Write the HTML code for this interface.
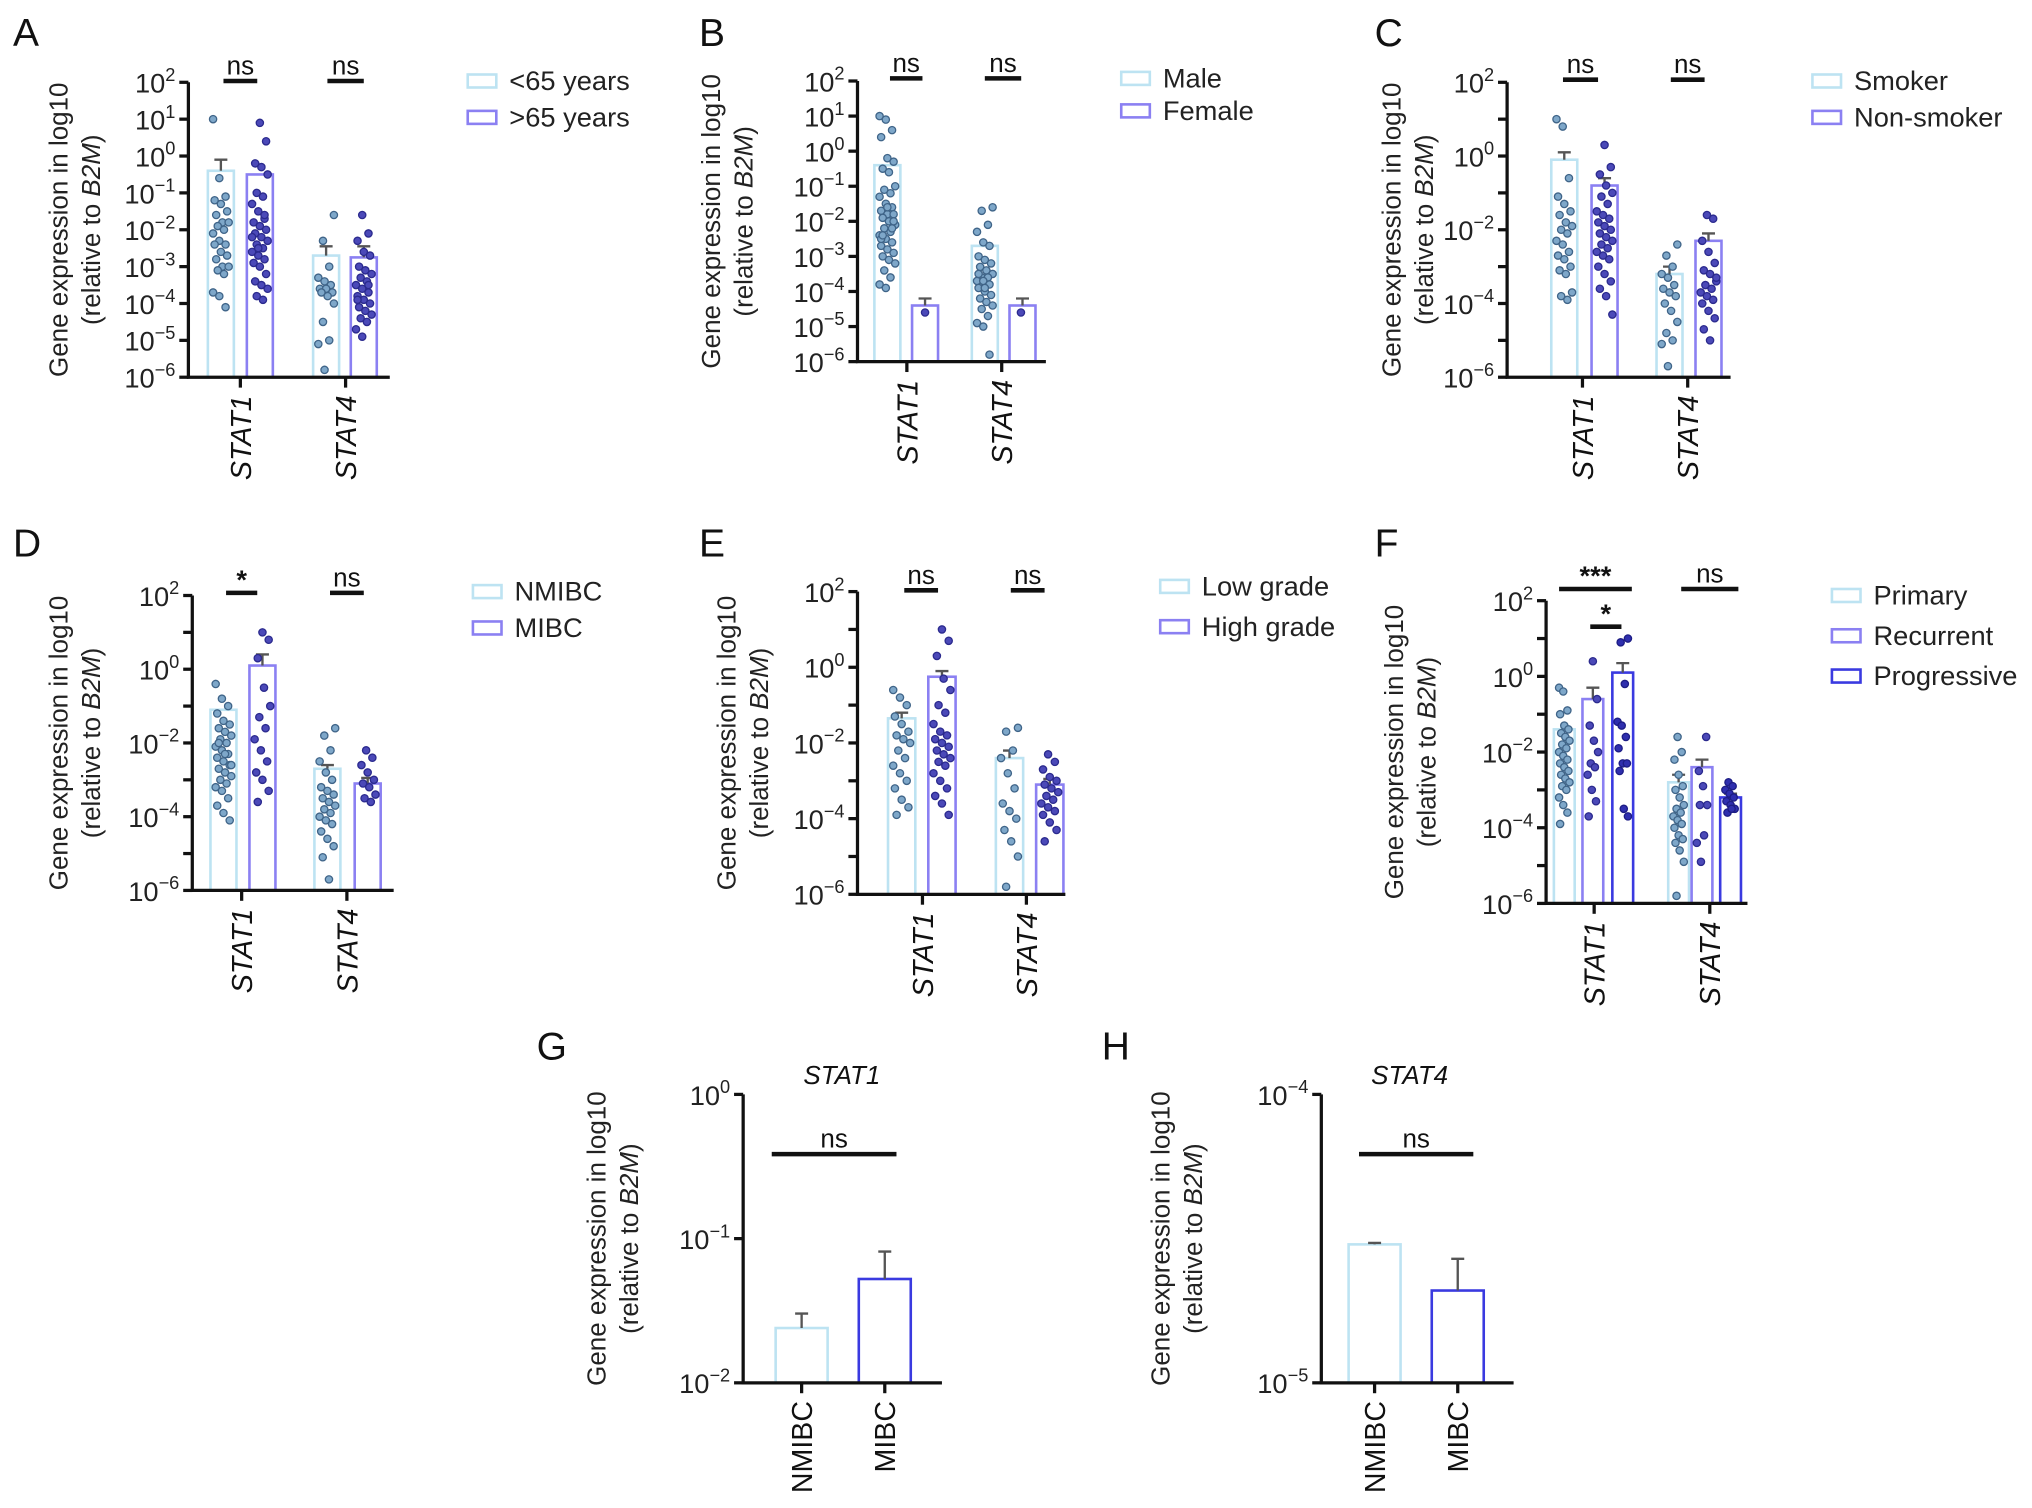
<!DOCTYPE html>
<html><head><meta charset="utf-8">
<style>
html,body{margin:0;padding:0;background:#fff;}
svg{display:block;font-family:"Liberation Sans",Arial,sans-serif;}
</style></head>
<body>
<svg id="fig" width="2032" height="1508" viewBox="0 0 1564 1160" xmlns="http://www.w3.org/2000/svg"></svg>
<script>
// ---------------- data (log10 values) ----------------
const catsAB = ["STAT1","STAT4"];
const legA = ["<65 years", ">65 years"];
const legB = ["Male", "Female"];
const legC = ["Smoker", "Non-smoker"];
const legD = ["NMIBC", "MIBC"];
const legE = ["Low grade", "High grade"];
const legF = ["Primary", "Recurrent", "Progressive"];

const A_s1_g1 = [1,-0.6,-1.1,-1.2,-1.3,-1.5,-1.6,-1.8,-1.8,-1.9,-2,-2.1,-2.3,-2.4,-2.4,-2.6,-2.7,-2.8,-3,-3,-3.1,-3.2,-3.7,-3.8,-4.1];
const A_s1_g2 = [0.9,0.4,-0.2,-0.3,-0.5,-1,-1.1,-1.3,-1.5,-1.7,-1.8,-1.9,-2,-2.1,-2.2,-2.3,-2.4,-2.5,-2.6,-2.7,-2.8,-2.9,-3,-3.2,-3.4,-3.5,-3.6,-3.8,-3.9,-2.2,-2.5,-1.6];
const A_s4_g1 = [-1.6,-2.3,-3,-3.3,-3.4,-3.5,-3.6,-3.6,-3.7,-3.7,-3.8,-4,-4.5,-5,-5.1,-5.8];
const A_s4_g2 = [-1.6,-2.1,-2.3,-2.6,-2.7,-3,-3.1,-3.2,-3.3,-3.4,-3.5,-3.6,-3.7,-3.8,-3.9,-4,-4.1,-4.2,-4.3,-4.4,-4.5,-4.7,-4.9,-3.5,-3.9];
const A_bars = [-0.4,-0.5,-2.7,-2.75];
const A_errs = [-0.1,-0.5,-2.45,-2.45];

const B_s1_g1 = [1,0.9,0.6,0.4,-0.2,-0.3,-0.5,-0.6,-1,-1.1,-1.2,-1.3,-1.5,-1.6,-1.7,-1.8,-1.8,-1.9,-2,-2.1,-2.2,-2.3,-2.4,-2.5,-2.6,-2.7,-2.8,-2.9,-3,-3.1,-3.2,-3.4,-3.6,-3.8,-3.9,-2.2,-2.5,-1.6,-2.0,-2.4];
const B_s1_g2 = [-4.6];
const B_s4_g1 = [-1.6,-1.7,-2.1,-2.3,-2.6,-2.7,-3,-3.1,-3.2,-3.3,-3.4,-3.5,-3.6,-3.6,-3.7,-3.7,-3.8,-3.9,-4,-4.1,-4.2,-4.3,-4.4,-4.5,-4.7,-4.9,-5,-5.8,-3.5,-3.9];
const B_s4_g2 = [-4.6];
const B_bars = [-0.4,-4.4,-2.7,-4.4];
const B_errs = [-0.4,-4.2,-2.7,-4.2];

const C_s1_g1 = [1,0.8,-0.6,-1.1,-1.3,-1.5,-1.6,-1.8,-1.9,-2,-2.1,-2.3,-2.4,-2.6,-2.7,-2.8,-3,-3.1,-3.2,-3.7,-3.8,-3.9];
const C_s1_g2 = [0.3,-0.3,-0.5,-0.8,-1,-1.1,-1.3,-1.5,-1.6,-1.7,-1.8,-1.9,-2,-2.1,-2.2,-2.3,-2.4,-2.5,-2.6,-2.7,-2.8,-3,-3.2,-3.4,-3.6,-3.8,-4.3];
const C_s4_g1 = [-2.4,-2.7,-3,-3.2,-3.3,-3.5,-3.6,-3.7,-3.8,-4,-4.2,-4.5,-4.8,-5,-5.1,-5.7];
const C_s4_g2 = [-1.6,-1.7,-2.3,-2.6,-2.9,-3.1,-3.2,-3.4,-3.5,-3.6,-3.7,-3.8,-3.9,-4,-4.2,-4.4,-4.7,-5,-3.3];
const C_bars = [-0.1,-0.8,-3.2,-2.3];
const C_errs = [0.1,-0.6,-3.0,-2.1];

const D_s1_g1 = [-0.4,-0.8,-1,-1.2,-1.4,-1.5,-1.6,-1.7,-1.8,-1.9,-2,-2.1,-2.2,-2.3,-2.4,-2.5,-2.6,-2.7,-2.8,-2.9,-3,-3.1,-3.2,-3.3,-3.5,-3.7,-3.9,-4.1,-2.0,-2.3,-2.6];
const D_s1_g2 = [1,0.8,0.3,-0.5,-1,-1.3,-1.6,-1.9,-2.2,-2.5,-2.8,-3,-3.3,-3.6];
const D_s4_g1 = [-1.6,-1.8,-2.2,-2.5,-2.8,-3,-3.2,-3.3,-3.4,-3.5,-3.6,-3.7,-3.8,-3.9,-4,-4.1,-4.2,-4.4,-4.6,-4.8,-5.1,-5.7];
const D_s4_g2 = [-2.2,-2.4,-2.6,-2.8,-3,-3.1,-3.2,-3.4,-3.5,-3.6];
const D_bars = [-1.1,0.1,-2.7,-3.1];
const D_errs = [-1.1,0.4,-2.6,-2.95];

const E_s1_g1 = [-0.6,-0.8,-1,-1.3,-1.5,-1.7,-1.8,-1.9,-2,-2.2,-2.4,-2.6,-2.8,-3,-3.2,-3.5,-3.7,-3.9];
const E_s1_g2 = [1,0.7,0.3,-0.3,-0.6,-1,-1.2,-1.5,-1.7,-1.8,-1.9,-2,-2.1,-2.2,-2.3,-2.4,-2.5,-2.6,-2.8,-3,-3.2,-3.4,-3.6,-3.9];
const E_s4_g1 = [-1.6,-1.7,-2.2,-2.4,-2.8,-3.2,-3.6,-3.8,-4,-4.3,-4.6,-5,-5.8];
const E_s4_g2 = [-2.3,-2.5,-2.7,-2.9,-3,-3.1,-3.2,-3.3,-3.4,-3.5,-3.6,-3.7,-3.8,-3.9,-4.1,-4.3,-4.6];
const E_bars = [-1.35,-0.25,-2.4,-3.1];
const E_errs = [-1.2,-0.1,-2.2,-2.95];

const F_s1_g1 = [-0.3,-0.4,-0.9,-1.0,-1.3,-1.4,-1.5,-1.6,-1.7,-1.8,-1.9,-2.0,-2.1,-2.2,-2.3,-2.4,-2.5,-2.6,-2.7,-2.8,-2.9,-3.0,-3.2,-3.4,-3.6,-3.9];
const F_s1_g2 = [0.4,-0.6,-1.3,-1.7,-2.0,-2.3,-2.4,-2.6,-3,-3.3,-3.7];
const F_s1_g3 = [1,0.9,-0.2,-1.2,-1.3,-1.6,-1.9,-2.3,-2.3,-2.5,-3.5,-3.7];
const F_s4_g1 = [-1.6,-2.0,-2.2,-2.6,-2.9,-3.0,-3.2,-3.4,-3.5,-3.6,-3.7,-3.8,-3.9,-4.0,-4.2,-4.3,-4.4,-4.6,-4.9,-5.8];
const F_s4_g2 = [-1.6,-2.5,-2.9,-3.4,-3.4,-4.2,-4.4,-4.9];
const F_s4_g3 = [-2.8,-2.9,-3,-3.1,-3.2,-3.3,-3.4,-3.5,-3.6,-3.5];
const F_bars = [-1.4,-0.6,0.1,-2.8,-2.4,-3.2];
const F_errs = [-1.4,-0.3,0.35,-2.6,-2.2,-3.1];

const catsGH = ["NMIBC","MIBC"];
const G_bars = [-1.62,-1.28];
const G_errs = [-1.52,-1.09];
const H_bars = [-4.52,-4.68];
const H_errs = [-4.515,-4.57];

// ---------------- drawing ----------------
const NS = "http://www.w3.org/2000/svg";
const svg = document.getElementById("fig");
const BARCOL = ["#bde3f2","#8b80f2","#3a3ae0"];
const DOTFILL = ["#7ea7c9","#4b49b8","#2f2fae"];
const DOTSTROKE = ["#3f6488","#2b2a8e","#1d1d85"];

function mk(tag, attrs, parent){
  const e = document.createElementNS(NS, tag);
  for (const k in attrs) e.setAttribute(k, attrs[k]);
  (parent||svg).appendChild(e);
  return e;
}
function txt(s, attrs, parent){
  const t = mk("text", attrs, parent);
  t.textContent = s;
  return t;
}
function powLabel(g, x, y, exp){
  const t = mk("text", {x:x, y:y, "text-anchor":"end", "font-size":21, fill:"#222"}, g);
  
  
  const a = document.createElementNS(NS,"tspan"); a.textContent = "10"; t.appendChild(a);
  const b = document.createElementNS(NS,"tspan"); b.setAttribute("dy","-9"); b.setAttribute("font-size","14");
  b.textContent = String(exp).replace("-","\u2212"); t.appendChild(b);
}
function yTitle(g, cx, cy){
  const t1 = txt("Gene expression in log10", {x:0,y:0,"font-size":20,"text-anchor":"middle",fill:"#222",transform:`translate(${cx},${cy}) rotate(-90)`}, g);
  
  
  const t2 = mk("text",{x:0,y:0,"font-size":20,"text-anchor":"middle",fill:"#222",transform:`translate(${cx+25},${cy}) rotate(-90)`}, g);
  
  
  const s1=document.createElementNS(NS,"tspan"); s1.textContent="(relative to "; t2.appendChild(s1);
  const s2=document.createElementNS(NS,"tspan"); s2.setAttribute("font-style","italic"); s2.textContent="B2M"; t2.appendChild(s2);
  const s3=document.createElementNS(NS,"tspan"); s3.textContent=")"; t2.appendChild(s3);
}
function sigBar(g, x1, x2, y, label){
  const l = mk("line",{x1:x1,x2:x2,y1:y,y2:y,stroke:"#111","stroke-width":3.5}, g);
  
  
  const t = txt(label,{x:(x1+x2)/2,y:label==="ns"?y-5:y-3,"text-anchor":"middle","font-size":label==="ns"?20:21,"font-weight":label==="ns"?"normal":"bold",fill:"#111"}, g);
  
  
}

function panel(cfg){
  const g = mk("g",{});
  
  
  const L = txt(cfg.letter,{x:cfg.lx,y:cfg.ly,"font-size":30,fill:"#111"}, g);
  
  
  const ys = v => cfg.yBot - (v - cfg.lo)/(cfg.hi - cfg.lo)*(cfg.yBot - cfg.yTop);
  cfg.bars.forEach((b,i)=>{
    const xc = cfg.barX[i], w = cfg.bw, ci = cfg.barCol[i];
    const r = mk("rect",{x:xc-w/2,y:ys(b),width:w,height:cfg.yBot-ys(b),fill:"none",stroke:BARCOL[ci],"stroke-width":2}, g);
    
    
    const e = cfg.errs[i];
    if (e > b) {
      const el = mk("path",{d:`M${xc},${ys(b)}V${ys(e)}M${xc-5},${ys(e)}H${xc+5}`,stroke:"#555","stroke-width":1.8,fill:"none"}, g);
      
      
    }
    const pts = cfg.pts ? cfg.pts[i] : null;
    if (pts) pts.forEach((v,j)=>{
      const off = (((j*37+i*5)%11)-5)/5 * (w/2-4);
      const c = mk("circle",{cx:xc+off,cy:ys(v),r:2.8,fill:DOTFILL[ci],stroke:DOTSTROKE[ci],"stroke-width":1}, g);
      
      
    });
  });
  const ax = mk("path",{d:`M${cfg.ax},${cfg.yTop}V${cfg.yBot}H${cfg.xEnd}`,stroke:"#111","stroke-width":2.5,fill:"none"}, g);
  
  
  for (let v=cfg.lo; v<=cfg.hi; v++){
    const y = ys(v);
    const tk = mk("line",{x1:cfg.ax-7,x2:cfg.ax,y1:y,y2:y,stroke:"#111","stroke-width":2.5}, g);
    
    
    if ((v - cfg.lo) % cfg.labStep === 0) powLabel(g, cfg.ax-10, y+8, v);
  }
  cfg.cats.forEach((c,i)=>{
    const x = cfg.catX[i];
    const tk = mk("line",{x1:x,x2:x,y1:cfg.yBot,y2:cfg.yBot+8,stroke:"#111","stroke-width":2.5}, g);
    
    
    const t = txt(c,{x:0,y:0,"font-size":22,"font-style":cfg.catItalic?"italic":"normal","text-anchor":"end",fill:"#111",transform:`translate(${x+8},${cfg.yBot+14}) rotate(-90)`}, g);
    
    
  });
  yTitle(g, cfg.tx, (cfg.yTop+cfg.yBot)/2);
  if (cfg.legend) cfg.legend.forEach((s,i)=>{
    const y = cfg.legY + i*cfg.legDy;
    const r = mk("rect",{x:cfg.legX,y:y-5,width:22,height:10,fill:"none",stroke:BARCOL[i],"stroke-width":2}, g);
    
    
    const t = txt(s,{x:cfg.legX+32,y:y+7,"font-size":21,fill:"#222"}, g);
    
    
  });
  if (cfg.title) {
    const t = txt(cfg.title,{x:cfg.titleX,y:cfg.yTop-8,"font-size":20,"font-style":"italic","text-anchor":"middle",fill:"#111"}, g);
    
    
  }
  (cfg.sig||[]).forEach(s=>sigBar(g,s[0],s[1],s[2],s[3]));
}

panel({letter:"A",lx:10,ly:35,ax:145,yTop:63,yBot:290,xEnd:300,lo:-6,hi:2,labStep:1,bw:20,
  bars:A_bars,errs:A_errs,barX:[170,200,251,280],barCol:[0,1,0,1],pts:[A_s1_g1,A_s1_g2,A_s4_g1,A_s4_g2],
  cats:catsAB,catX:[185,266],catItalic:true,tx:52,legend:legA,legX:360,legY:62,legDy:28,
  sig:[[172,198,62,"ns"],[252,280,62,"ns"]]});
panel({letter:"B",lx:538,ly:35,ax:660,yTop:62,yBot:278,xEnd:805,lo:-6,hi:2,labStep:1,bw:20,
  bars:B_bars,errs:B_errs,barX:[683,712,758,787],barCol:[0,1,0,1],pts:[B_s1_g1,B_s1_g2,B_s4_g1,B_s4_g2],
  cats:catsAB,catX:[698,771],catItalic:true,tx:554,legend:legB,legX:863,legY:60,legDy:25,
  sig:[[685,710,60,"ns"],[758,786,60,"ns"]]});
panel({letter:"C",lx:1058,ly:35,ax:1160,yTop:63,yBot:290,xEnd:1332,lo:-6,hi:2,labStep:2,bw:20,
  bars:C_bars,errs:C_errs,barX:[1204,1235,1285,1315],barCol:[0,1,0,1],pts:[C_s1_g1,C_s1_g2,C_s4_g1,C_s4_g2],
  cats:catsAB,catX:[1218,1299],catItalic:true,tx:1078,legend:legC,legX:1395,legY:62,legDy:28,
  sig:[[1203,1230,61,"ns"],[1286,1312,61,"ns"]]});
panel({letter:"D",lx:10,ly:428,ax:148,yTop:458,yBot:685,xEnd:303,lo:-6,hi:2,labStep:2,bw:20,
  bars:D_bars,errs:D_errs,barX:[172,202,252,283],barCol:[0,1,0,1],pts:[D_s1_g1,D_s1_g2,D_s4_g1,D_s4_g2],
  cats:catsAB,catX:[186,267],catItalic:true,tx:52,legend:legD,legX:364,legY:455,legDy:28,
  sig:[[174,198,456,"*"],[254,280,456,"ns"]]});
panel({letter:"E",lx:538,ly:428,ax:660,yTop:455,yBot:688,xEnd:820,lo:-6,hi:2,labStep:2,bw:21,
  bars:E_bars,errs:E_errs,barX:[694,725,777,808],barCol:[0,1,0,1],pts:[E_s1_g1,E_s1_g2,E_s4_g1,E_s4_g2],
  cats:catsAB,catX:[710,790],catItalic:true,tx:566,legend:legE,legX:893,legY:451,legDy:31,
  sig:[[696,722,454,"ns"],[778,804,454,"ns"]]});
panel({letter:"F",lx:1058,ly:428,ax:1190,yTop:462,yBot:695,xEnd:1345,lo:-6,hi:2,labStep:2,bw:16,
  bars:F_bars,errs:F_errs,barX:[1204,1226,1249,1292,1310,1332],barCol:[0,1,2,0,1,2],
  pts:[F_s1_g1,F_s1_g2,F_s1_g3,F_s4_g1,F_s4_g2,F_s4_g3],
  cats:catsAB,catX:[1227,1316],catItalic:true,tx:1080,legend:legF,legX:1410,legY:458,legDy:31,
  sig:[[1200,1256,453,"***"],[1224,1248,482,"*"],[1294,1338,453,"ns"]]});
panel({letter:"G",lx:413,ly:815,ax:572,yTop:842,yBot:1064,xEnd:725,lo:-2,hi:0,labStep:1,bw:40,
  bars:G_bars,errs:G_errs,barX:[617,681],barCol:[0,2],pts:null,
  cats:catsGH,catX:[617,681],catItalic:false,tx:466,title:"STAT1",titleX:648,
  sig:[[594,690,888,"ns"]]});
panel({letter:"H",lx:848,ly:815,ax:1017,yTop:842,yBot:1064,xEnd:1165,lo:-5,hi:-4,labStep:1,bw:40,
  bars:H_bars,errs:H_errs,barX:[1058,1122],barCol:[0,2],pts:null,
  cats:catsGH,catX:[1058,1122],catItalic:false,tx:900,title:"STAT4",titleX:1085,
  sig:[[1046,1134,888,"ns"]]});
</script>
</body></html>
